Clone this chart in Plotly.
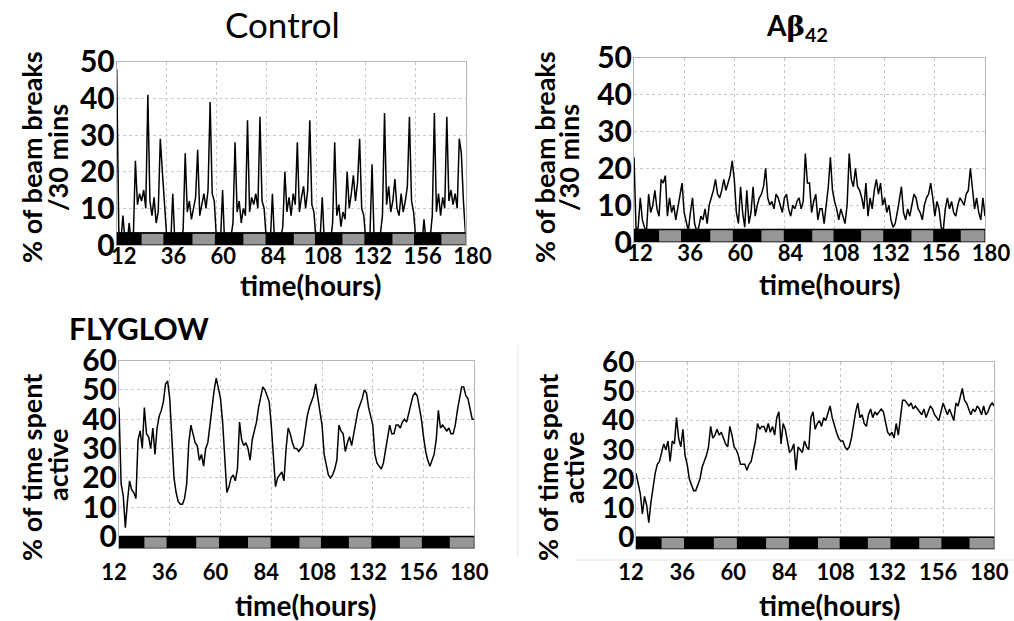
import plotly.graph_objects as go

# ---------------- data (hourly) ----------------
hours = list(range(12, 181))

control_dam = [48, 4, 1, 8, 1, 0, 6, 1, 2, 23, 11, 14,
               12, 15, 10, 41, 12, 8, 13, 6, 9, 29, 20, 12,
               3, 1, 0, 14, 1, 0, 0, 2, 4, 25, 9, 12,
               7, 10, 13, 26, 8, 11, 14, 10, 15, 39, 14, 12,
               2, 0, 1, 15, 0, 1, 0, 2, 6, 28, 9, 12,
               6, 10, 8, 34, 9, 13, 11, 14, 10, 35, 12, 10,
               2, 0, 1, 14, 1, 0, 0, 2, 5, 20, 9, 13,
               8, 14, 11, 28, 9, 13, 16, 10, 15, 34, 11, 9,
               1, 0, 2, 13, 1, 0, 2, 1, 6, 28, 8, 11,
               5, 9, 7, 20, 10, 14, 19, 12, 17, 29, 10, 8,
               1, 0, 3, 22, 1, 0, 1, 3, 8, 36, 11, 16,
               9, 12, 18, 10, 8, 14, 9, 12, 16, 35, 12, 9,
               2, 0, 1, 0, 7, 1, 0, 2, 8, 36, 9, 14,
               8, 13, 10, 35, 12, 15, 11, 14, 10, 29, 25, 12,
               3]

abeta_dam = [23, 3, 4, 12, 6, 4, 3, 13, 8, 10, 14, 9,
             7, 17, 16, 18, 7, 12, 8, 10, 6, 9, 13, 16,
             8, 5, 3, 8, 12, 5, 3, 4, 7, 6, 9, 5,
             10, 12, 14, 17, 13, 12, 14, 17, 14, 16, 18, 22,
             17, 8, 5, 15, 8, 4, 14, 5, 8, 15, 7, 10,
             12, 13, 15, 20, 12, 10, 11, 9, 13, 12, 10, 8,
             12, 13, 9, 7, 10, 9, 11, 12, 9, 11, 24, 16,
             16, 8, 11, 13, 6, 9, 9, 5, 10, 15, 23, 14,
             11, 9, 6, 9, 7, 5, 10, 24, 17, 15, 20, 15,
             14, 12, 9, 16, 7, 12, 9, 14, 17, 13, 16, 10,
             12, 8, 10, 6, 4, 5, 8, 11, 15, 8, 6, 9,
             7, 10, 13, 12, 9, 8, 6, 10, 12, 13, 16, 12,
             7, 11, 9, 4, 3, 9, 12, 9, 11, 8, 7, 10,
             12, 11, 10, 13, 14, 20, 15, 9, 12, 8, 6, 12,
             7]

control_glow = [44, 18, 14, 3, 12, 19, 16, 15, 13, 33, 36, 30,
                44, 35, 34, 30, 37, 28, 37, 41, 43, 46, 52, 53,
                47, 32, 20, 15, 12, 11, 11, 13, 18, 32, 38, 35,
                32, 31, 26, 28, 24, 30, 32, 38, 45, 50, 54, 51,
                47, 39, 28, 15, 17, 20, 21, 19, 23, 39, 33, 31,
                32, 30, 26, 33, 36, 39, 44, 48, 51, 50, 48, 46,
                38, 27, 17, 20, 21, 22, 19, 30, 37, 35, 32, 30,
                30, 29, 30, 31, 36, 41, 44, 46, 48, 52, 47, 43,
                38, 28, 24, 21, 20, 21, 23, 26, 38, 36, 35, 29,
                32, 34, 31, 35, 38, 43, 45, 47, 50, 49, 44, 41,
                38, 28, 25, 24, 23, 25, 29, 34, 38, 35, 35, 38,
                38, 37, 39, 40, 39, 42, 45, 48, 49, 48, 44, 40,
                34, 29, 26, 24, 26, 28, 33, 43, 37, 38, 37, 36,
                37, 35, 35, 38, 43, 47, 51, 51, 48, 47, 44, 40,
                40]

abeta_glow = [22, 18, 15, 8, 14, 11, 5, 12, 18, 22, 25, 26,
              29, 32, 30, 33, 26, 33, 32, 41, 34, 31, 37, 28,
              25, 20, 18, 16, 16, 18, 20, 24, 26, 28, 31, 38,
              34, 35, 37, 35, 36, 34, 32, 31, 38, 35, 31, 30,
              28, 25, 25, 25, 23, 25, 26, 30, 33, 39, 37, 38,
              38, 36, 39, 36, 38, 35, 41, 43, 32, 39, 37, 33,
              29, 30, 32, 23, 31, 30, 29, 33, 31, 30, 41, 43,
              37, 39, 40, 38, 41, 40, 43, 45, 41, 38, 36, 34,
              33, 33, 31, 30, 31, 34, 39, 43, 46, 41, 42, 39,
              38, 42, 44, 41, 43, 42, 43, 44, 43, 40, 36, 35,
              36, 34, 39, 35, 41, 47, 47, 46, 45, 46, 44, 45,
              44, 43, 42, 44, 41, 43, 45, 44, 42, 41, 40, 43,
              46, 44, 42, 44, 42, 40, 46, 45, 48, 51, 47, 46,
              44, 42, 44, 43, 45, 44, 42, 45, 42, 43, 45, 46,
              45]

x_ticks = [12, 36, 60, 84, 108, 132, 156, 180]
dam_ticks = [0, 10, 20, 30, 40, 50]
glow_ticks = [0, 10, 20, 30, 40, 50, 60]

# light/dark bar (dark periods in hours)
dark_start = [12, 34.5, 59.3, 83.7, 107.5, 131.3, 155.2]
dark_end = [24, 48.5, 73, 97.3, 120.7, 144.8, 168.4]

# ---------------- layout helpers ----------------
W, H = 1014, 621
FONT = "Lato, 'Open Sans', sans-serif"


def fx(p):
    return p / W


def fy(p):
    return 1 - p / H


panels = [
    dict(n="", data=control_dam, xpx=(116.7, 465.5), ypx=(245.0, 61.7), yr=[0, 50],
         yt=dam_ticks, bar=(0, 3.3), shift=7, standoff=-8, ysize=30),
    dict(n="2", data=abeta_dam, xpx=(634.0, 985.0), ypx=(242.0, 57.7), yr=[0, 50],
         yt=dam_ticks, bar=(0, 3.4), shift=6, standoff=-8, ysize=30),
    dict(n="3", data=control_glow, xpx=(119.0, 474.3), ypx=(548.3, 360.5), yr=[-4, 60],
         yt=glow_ticks, bar=(-4, 0), shift=-5, standoff=4, ysize=30),
    dict(n="4", data=abeta_glow, xpx=(636.0, 994.3), ypx=(549.0, 362.2), yr=[-4, 60],
         yt=glow_ticks, bar=(-4, 0), shift=-5, standoff=4, ysize=28),
]

fig = go.Figure()
shapes = []
layout = {}

for p in panels:
    n = p["n"]
    xa, ya = "x" + n, "y" + n
    fig.add_trace(go.Scatter(x=hours, y=p["data"], mode="lines",
                             line=dict(color="black", width=1.5),
                             xaxis=xa, yaxis=ya, showlegend=False,
                             hoverinfo="skip"))
    layout["xaxis" + n] = dict(
        domain=[fx(p["xpx"][0]), fx(p["xpx"][1])], range=[12, 180],
        anchor=ya, tickvals=x_ticks, ticks="", showgrid=True, automargin=False,
        gridcolor="#c8c8c8", griddash="dot", gridwidth=1,
        showline=True, mirror=True, linecolor="#b5b5b5", linewidth=1,
        zeroline=False, ticklabelshift=p["shift"],
        ticklabelstandoff=p["standoff"],
        tickfont=dict(family=FONT, size=22, color="black", weight="bold"))
    layout["yaxis" + n] = dict(
        domain=[fy(p["ypx"][0]), fy(p["ypx"][1])], range=p["yr"],
        anchor=xa, tickvals=p["yt"], ticks="", showgrid=True, automargin=False,
        gridcolor="#c8c8c8", griddash="dot", gridwidth=1,
        showline=True, mirror=True, linecolor="#b5b5b5", linewidth=1,
        zeroline=False, ticklabelstandoff=-5,
        tickfont=dict(family=FONT, size=p["ysize"], color="black", weight="bold"))
    b0, b1 = p["bar"]
    shapes.append(dict(type="rect", xref=xa, yref=ya, x0=12, x1=180, y0=b0, y1=b1,
                       fillcolor="#969696", line=dict(color="black", width=1),
                       layer="above"))
    for s, e in zip(dark_start, dark_end):
        shapes.append(dict(type="rect", xref=xa, yref=ya, x0=s, x1=e, y0=b0, y1=b1,
                           fillcolor="black", line=dict(width=0), layer="above"))
    top = b1 if b1 > 0 else 0
    shapes.append(dict(type="line", xref=xa, yref=ya, x0=12, x1=180, y0=top,
                       y1=top, line=dict(color="black", width=1.5), layer="above"))

# faint panel edge lines seen around the lower-right panel
shapes.append(dict(type="line", xref="paper", yref="paper", x0=fx(518), x1=fx(518),
                   y0=fy(557), y1=fy(345), line=dict(color="#e2e2e2", width=1)))
shapes.append(dict(type="line", xref="paper", yref="paper", x0=fx(575), x1=fx(1014),
                   y0=fy(560), y1=fy(560), line=dict(color="#e2e2e2", width=1)))


def ann(text, x, y, size, bold=True, angle=0):
    return dict(text=text, x=fx(x), y=fy(y), xref="paper", yref="paper",
                xanchor="center", yanchor="middle", showarrow=False,
                textangle=angle,
                font=dict(family=FONT, size=size, color="black",
                          weight="bold" if bold else "normal"))


annotations = [
    ann("Control", 282, 24, 35, bold=False),
    ann("A<span style='font-family:DejaVu Serif'>β</span><sub>42</sub>", 797, 27, 28),
    ann("FLYGLOW", 139, 328, 30),
    ann("% of beam breaks", 31, 157, 27, angle=-90),
    ann("/30 mins", 57, 158, 27, angle=-90),
    ann("% of beam breaks", 544, 157, 27, angle=-90),
    ann("/30 mins", 568, 158, 27, angle=-90),
    ann("% of time spent", 31, 468, 27, angle=-90),
    ann("active", 57, 465, 27, angle=-90),
    ann("% of time spent", 547, 468, 27, angle=-90),
    ann("active", 573, 468, 27, angle=-90),
    ann("time(hours)", 311, 285, 28),
    ann("time(hours)", 830, 284, 28),
    ann("time(hours)", 306, 605, 28),
    ann("time(hours)", 830, 605, 28),
]

fig.update_layout(width=W, height=H, margin=dict(l=0, r=0, t=0, b=0),
                  paper_bgcolor="white", plot_bgcolor="white",
                  shapes=shapes, annotations=annotations, **layout)

fig.write_html("out.html", config={"displayModeBar": False},
               post_script="document.body.style.margin='0';")
